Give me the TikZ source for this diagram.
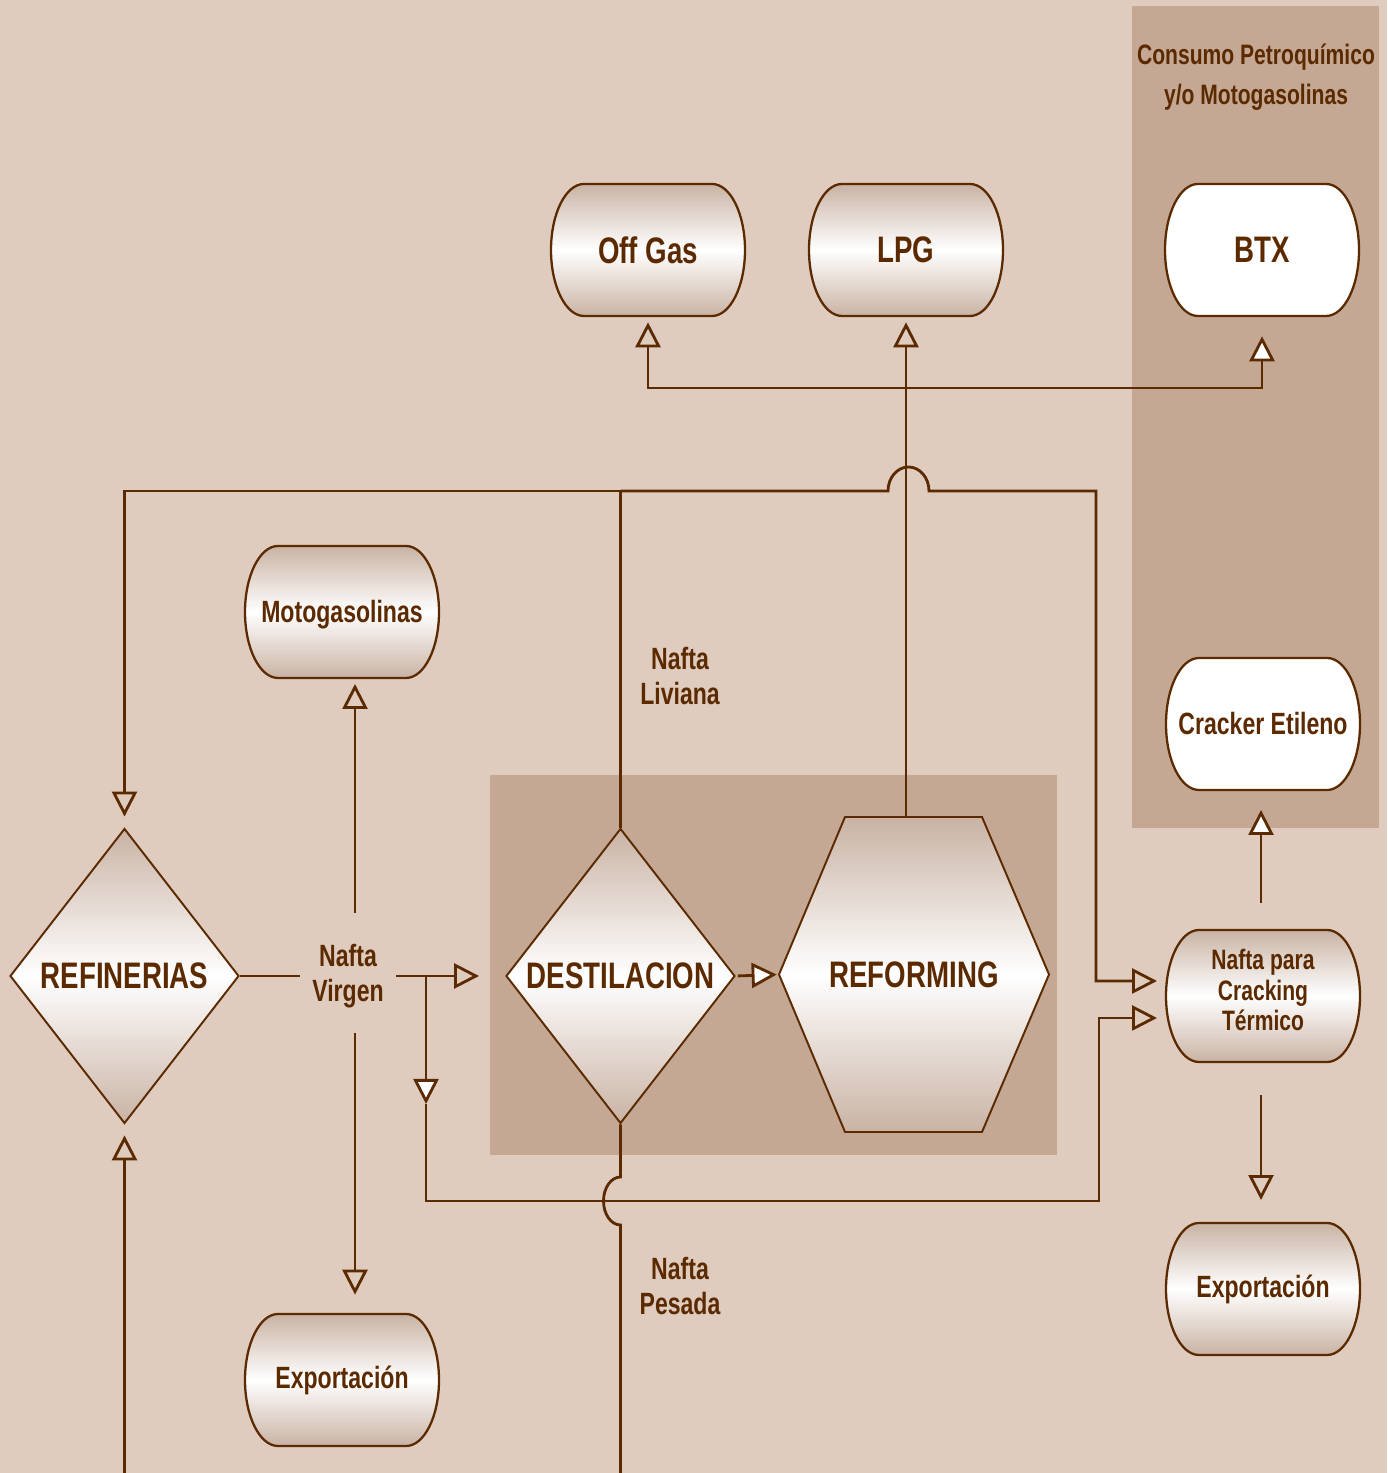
\documentclass[tikz,border=0pt]{standalone}
\usepackage{fontspec}
\setmainfont{Liberation Sans}[FakeStretch=0.75]
\usetikzlibrary{shapes.geometric,arrows.meta}

\definecolor{bgbeige}{HTML}{DFCCBF}
\definecolor{panelbrown}{HTML}{C4A893}
\definecolor{ink}{HTML}{5C2A00}
\definecolor{shadeedge}{HTML}{C9B3A4}

% pill shaped box: name, x, y, fill, font style, text
\newcommand{\pillbox}[6]{%
  \path[draw=ink, line width=1.3pt, #4] (#2-64,#3+66) -- (#2+64,#3+66)
    arc[start angle=90, end angle=-90, x radius=33, y radius=66]
    -- (#2-64,#3-66)
    arc[start angle=270, end angle=90, x radius=33, y radius=66] -- cycle;
  \node[lbl, #5, minimum width=3.88cm, minimum height=2.64cm] (#1) at (#2,#3) {#6};
}

\begin{document}
\begin{tikzpicture}[x=0.02cm, y=0.02cm,
  lbl/.style={text=ink, align=center, inner sep=0pt},
  big/.style={font=\fontsize{21}{24}\selectfont\bfseries},
  mid/.style={font=\fontsize{17.5}{19.8}\selectfont\bfseries},
  small/.style={font=\fontsize{16}{17.6}\selectfont\bfseries},
  glossy/.style={top color=shadeedge, bottom color=shadeedge, middle color=white},
  plain/.style={fill=white},
  pipe/.style={draw=ink, line width=1.6pt},
  flow/.style={pipe, -{Triangle[open, length=0.5cm, width=0.5cm]}},
  wflow/.style={pipe, -{Triangle[fill=white, length=0.5cm, width=0.5cm]}},
  gem/.style={diamond, draw=ink, line width=1.1pt, glossy, aspect=0.776,
    minimum width=4.58cm, minimum height=5.9cm, inner sep=0pt}]

\useasboundingbox (0,0) rectangle (1387,1473);
\fill[bgbeige] (0,0) rectangle (1387,1473);

% Panels
\fill[panelbrown] (1132,645) rectangle (1379,1467);
\fill[panelbrown] (490,318) rectangle (1057,698);
\node[lbl, font=\fontsize{16}{22.7}\selectfont\bfseries] (consumo) at (1256,1396)
  {Consumo Petroquímico\\y/o Motogasolinas};

% Products
\pillbox{offgas}{648}{1223}{glossy}{big}{Off Gas}
\pillbox{lpg}{906}{1223}{glossy}{big}{LPG}
\pillbox{btx}{1262}{1223}{plain}{big}{BTX}
\pillbox{motogas}{342}{861}{glossy}{mid, yshift=-0.06cm}{Motogasolinas}
\pillbox{cracker}{1263}{749}{plain}{mid}{Cracker Etileno}
\pillbox{nafcrack}{1263}{477}{glossy}{small, yshift=0.12cm}{Nafta para\\Cracking\\Térmico}
\pillbox{exportR}{1263}{184}{glossy}{mid}{Exportación}
\pillbox{exportL}{342}{93}{glossy}{mid}{Exportación}

% Units
\node[gem] (refin) at (124.5,497) {};
\node[lbl, big] (refintxt) at (refin) {REFINERIAS};
\node[gem] (destil) at (620.5,497) {};
\node[lbl, big] (destiltxt) at (destil) {DESTILACION};
\path[draw=ink, line width=1.1pt, glossy] (845,656) -- (982,656) -- (1049,498.5)
  -- (982,341) -- (845,341) -- (779,498.5) -- cycle;
\node[lbl, big, minimum width=5.4cm, minimum height=6.3cm] (reform) at (914,498.5) {REFORMING};

% Stream labels
\node[lbl, mid] (liviana) at (680,797) {Nafta\\Liviana};
\node[lbl, mid] (pesada) at (680,187) {Nafta\\Pesada};
\node[lbl, mid, inner xsep=0.24cm] (nvirgen) at (348,497) {Nafta\\Virgen};

% Helper points
\coordinate (liv) at (620.5,982);
\coordinate (gasrow) at (0,1085);
\coordinate (crackin1) at (1157,492);
\coordinate (crackin2) at (1157,455);
\coordinate (vj) at (426,497);
\coordinate (vdown) at (426,369);
\coordinate (vup) at (355,560);
\coordinate (vlow) at (355,440);
\coordinate (pesout) at (620.5,0);
\coordinate (refinin) at (124.5,0);
\coordinate (ncup) at (1261,570);
\coordinate (ncdown) at (1261,378);
\coordinate (mgbottom) at (355,795);
\coordinate (nctop) at (1261,683);
\coordinate (exptop) at (1261,250);

% Nafta liviana
\draw[pipe] (destil.north) -- (liv);
\draw[flow, shorten >=0.22cm] (liv) -- (124.5,982) -- (refin.north);
\draw[flow] (liv) -- (888,982) arc[start angle=180, end angle=0, x radius=20.5, y radius=24]
  -- (1096,982) -- (1096,492) -- (crackin1);

% Reforming products
\draw[flow, shorten >=0.12cm] (reform.north -| lpg.south) -- (lpg.south);
\draw[flow, shorten >=0.12cm] (lpg.south |- gasrow) -- (offgas.south |- gasrow) -- (offgas.south);
\draw[wflow, shorten >=0.4cm] (lpg.south |- gasrow) -- (btx.south |- gasrow) -- (btx.south);
\draw[wflow, shorten <=0.04cm, shorten >=0.04cm] (destil.east) -- (reform.west);

% Nafta virgen
\draw[pipe] (refin.east) -- (nvirgen.west);
\draw[flow, shorten >=0.52cm] (nvirgen.east) -- (destil.west);
\draw[wflow] (vj) -- (vdown);
\draw[flow] (vdown) -- (426,272) -- (1099,272) -- (1099,455) -- (crackin2);
\draw[flow, shorten >=0.12cm] (vup) -- (mgbottom);
\draw[flow, shorten >=0.38cm] (vlow) -- (vlow |- exportL.north);

% Nafta pesada
\draw[pipe] (destil.south) -- (620.5,296) arc[start angle=90, end angle=270, x radius=17, y radius=24]
  -- (pesout);
\draw[flow, shorten >=0.22cm] (refinin) -- (refin.south);

% Cracking
\draw[wflow, shorten >=0.4cm] (ncup) -- (nctop);
\draw[flow, shorten >=0.46cm] (ncdown) -- (exptop);
\end{tikzpicture}
\end{document}
